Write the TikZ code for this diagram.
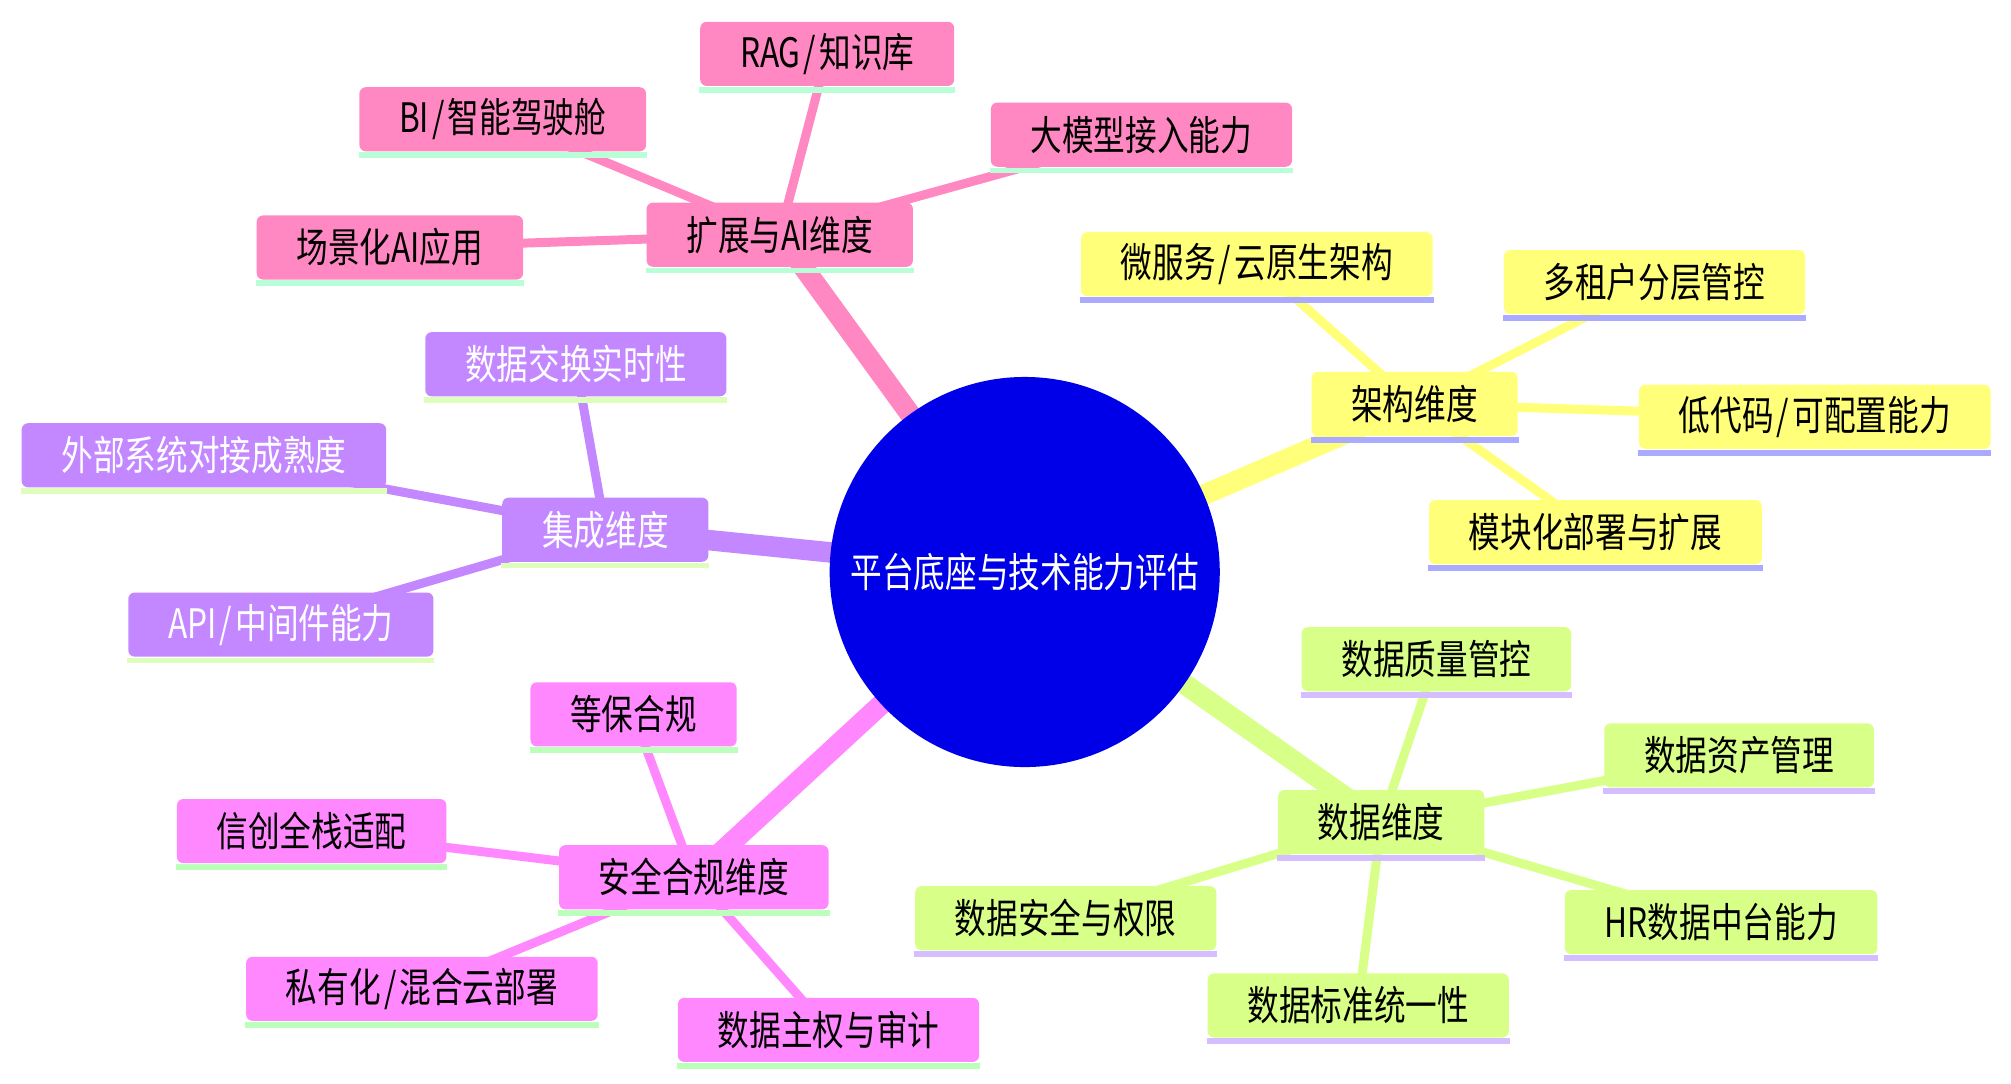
\documentclass[tikz,border=0pt]{standalone}
\usepackage{fontspec}
\newfontfamily\mmfont[FakeStretch=0.78]{Noto Sans CJK SC}
\usetikzlibrary{backgrounds}
\newcommand{\slsh}{\kern0.7pt/\kern0.7pt}
\definecolor{mmroot}{RGB}{0,0,232}
\definecolor{mmpink}{RGB}{255,136,194}
\definecolor{mmyellow}{RGB}{255,255,122}
\definecolor{mmgreen}{RGB}{216,255,135}
\definecolor{mmmagenta}{RGB}{255,136,255}
\definecolor{mmpurple}{RGB}{195,136,255}
\definecolor{ulpink}{RGB}{184,255,216}
\definecolor{ulyellow}{RGB}{170,170,255}
\definecolor{ulgreen}{RGB}{212,190,255}
\definecolor{ulmagenta}{RGB}{187,255,187}
\definecolor{ulpurple}{RGB}{221,255,187}
\begin{document}
\begin{tikzpicture}[
  x=0.01cm, y=-0.01cm,
  font=\mmfont\fontsize{9}{11}\selectfont,
  rootnode/.style={circle, fill=mmroot, text=white, minimum size=3.04cm, inner sep=0pt},
  topic/.style={rounded corners=0.05cm, minimum height=0.5cm, inner xsep=0.31cm, inner ysep=0pt},
  under/.style={append after command={([yshift=-0.022cm]\tikzlastnode.south west)
                edge[draw=#1, line width=0.045cm] ([yshift=-0.022cm]\tikzlastnode.south east)}},
  ext/.style={topic, fill=mmpink, under=ulpink},
  arch/.style={topic, fill=mmyellow, under=ulyellow},
  data/.style={topic, fill=mmgreen, under=ulgreen},
  secu/.style={topic, fill=mmmagenta, under=ulmagenta},
  integ/.style={topic, fill=mmpurple, text=white, under=ulpurple},
  branch/.style={draw=#1, line width=0.16cm},
  twig/.style={draw=#1, line width=0.07cm}
]
\useasboundingbox (0,0) rectangle (1568,845);

\node[rootnode] (root) at (799,446) {平台底座与技术能力评估};

\node[ext] (extai) at (608,183) {扩展与AI维度};
\node[ext] (rag) at (645,42) {RAG\slsh 知识库};
\node[ext] (bi) at (392,93) {BI\slsh 智能驾驶舱};
\node[ext] (llm) at (890,105) {大模型接入能力};
\node[ext] (scene) at (304,193) {场景化AI应用};

\node[arch] (archdim) at (1103,315) {架构维度};
\node[arch] (micro) at (980,206) {微服务\slsh 云原生架构};
\node[arch] (tenant) at (1290,220) {多租户分层管控};
\node[arch] (lowcode) at (1415,325) {低代码\slsh 可配置能力};
\node[arch] (module) at (1244,415) {模块化部署与扩展};

\node[data] (datadim) at (1077,641) {数据维度};
\node[data] (quality) at (1120,514) {数据质量管控};
\node[data] (asset) at (1356,589) {数据资产管理};
\node[data] (hr) at (1342,719) {HR数据中台能力};
\node[data] (std) at (1059,784) {数据标准统一性};
\node[data] (dsafe) at (831,716) {数据安全与权限};

\node[secu] (secdim) at (541,684) {安全合规维度};
\node[secu] (mlps) at (494,557) {等保合规};
\node[secu] (xinc) at (243,648) {信创全栈适配};
\node[secu] (priv) at (329,771) {私有化\slsh 混合云部署};
\node[secu] (sover) at (646,803) {数据主权与审计};

\node[integ] (intdim) at (472,413) {集成维度};
\node[integ] (xchg) at (449,284) {数据交换实时性};
\node[integ] (outsys) at (159,355) {外部系统对接成熟度};
\node[integ] (api) at (219,487) {API\slsh 中间件能力};

\begin{scope}[on background layer]
\draw[branch=mmpink] (root.center) -- (extai.center);
\draw[branch=mmyellow] (root.center) -- (archdim.center);
\draw[branch=mmgreen] (root.center) -- (datadim.center);
\draw[branch=mmmagenta] (root.center) -- (secdim.center);
\draw[branch=mmpurple] (root.center) -- (intdim.center);
\foreach \leaf in {rag,bi,llm,scene}
  \draw[twig=mmpink] (extai.center) -- (\leaf.center);
\foreach \leaf in {micro,tenant,lowcode,module}
  \draw[twig=mmyellow] (archdim.center) -- (\leaf.center);
\foreach \leaf in {quality,asset,hr,std,dsafe}
  \draw[twig=mmgreen] (datadim.center) -- (\leaf.center);
\foreach \leaf in {mlps,xinc,priv,sover}
  \draw[twig=mmmagenta] (secdim.center) -- (\leaf.center);
\foreach \leaf in {xchg,outsys,api}
  \draw[twig=mmpurple] (intdim.center) -- (\leaf.center);
\end{scope}
\end{tikzpicture}
\end{document}
